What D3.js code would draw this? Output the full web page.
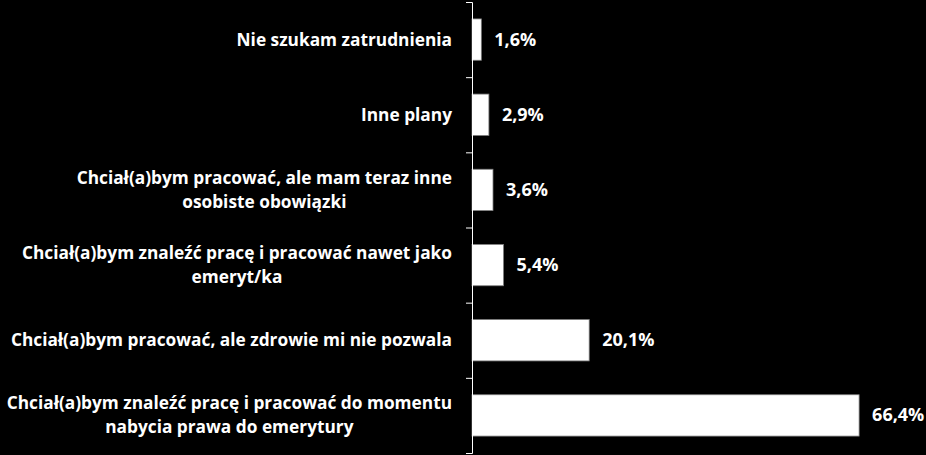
<!DOCTYPE html>
<html>
<head>
<meta charset="utf-8">
<script src="https://cdn.jsdelivr.net/npm/d3@7"></script>
<style>
  html, body { margin: 0; padding: 0; background: #000; }
  svg { display: block; }
  .label { fill: #fff; font-family: "Open Sans", sans-serif; font-weight: bold; font-size: 17.3px; }
  .value { font-size: 18px; }
  .axis path, .axis line { stroke: #fff; stroke-width: 1; }
</style>
</head>
<body>
<div id="graph-container"></div>
<script>
// categories top to bottom, each an array of text lines
const categories = [
  ['Nie szukam zatrudnienia'],
  ['Inne plany'],
  ['Chciał(a)bym pracować, ale mam teraz inne', 'osobiste obowiązki'],
  ['Chciał(a)bym znaleźć pracę i pracować nawet jako', 'emeryt/ka'],
  ['Chciał(a)bym pracować, ale zdrowie mi nie pozwala'],
  ['Chciał(a)bym znaleźć pracę i pracować do momentu', 'nabycia prawa do emerytury']
];
const values = [1.6, 2.9, 3.6, 5.4, 20.1, 66.4];
const valueLabels = ['1,6%', '2,9%', '3,6%', '5,4%', '20,1%', '66,4%'];

const width = 926, height = 455;
const axisX = 472;

const svg = d3.select('#graph-container')
  .append('svg')
  .attr('width', width)
  .attr('height', height);

const keys = categories.map((c, i) => i);

const y = d3.scaleBand()
  .domain(keys)
  .range([2, 453])
  .paddingInner(0.45)
  .paddingOuter(0.225);

const x = d3.scaleLinear()
  .domain([0, 70])
  .range([axisX, axisX + 70 * 5.83]);

// bars
svg.selectAll('rect.bar')
  .data(values)
  .enter()
  .append('rect')
  .attr('class', 'bar')
  .attr('x', x(0))
  .attr('y', (d, i) => y(i))
  .attr('width', d => x(d) - x(0))
  .attr('height', y.bandwidth())
  .attr('fill', '#fff')
  .attr('stroke', '#7f7f7f')
  .attr('stroke-width', 0.8);

// axis with ticks on the category boundaries
const yb = d3.scaleLinear().domain([0, categories.length]).range([2, 453]);
svg.append('g')
  .attr('class', 'axis')
  .attr('transform', `translate(${axisX},0)`)
  .call(d3.axisLeft(yb).ticks(categories.length).tickSize(6).tickFormat(''));

// value labels
svg.selectAll('text.value')
  .data(values)
  .enter()
  .append('text')
  .attr('class', 'label value')
  .attr('x', d => x(d) + 13)
  .attr('y', (d, i) => y(i) + y.bandwidth() / 2 + 6)
  .text((d, i) => valueLabels[i]);

// category labels: block right-aligned, lines centred within the block
const lineHeight = 24;
const labelRight = 452;
categories.forEach((lines, i) => {
  const cy = y(i) + y.bandwidth() / 2;
  const t = svg.append('text')
    .attr('class', 'label')
    .attr('text-anchor', 'middle');
  const spans = lines.map((line, j) => t.append('tspan')
    .attr('y', cy + 6 + (j - (lines.length - 1) / 2) * lineHeight)
    .text(line));
  const maxW = d3.max(spans, s => s.node().getComputedTextLength());
  spans.forEach(s => s.attr('x', labelRight - maxW / 2));
});
</script>
</body>
</html>
